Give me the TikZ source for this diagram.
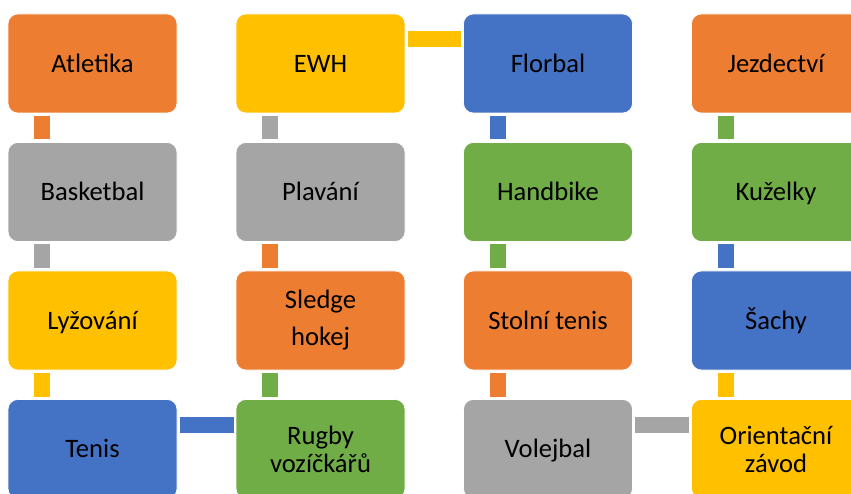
\documentclass[tikz,border=0pt]{standalone}
\usepackage{fontspec}
\setmainfont{Carlito}
\definecolor{cOrange}{HTML}{ED7D31}
\definecolor{cGray}{HTML}{A5A5A5}
\definecolor{cYellow}{HTML}{FFC000}
\definecolor{cBlue}{HTML}{4472C4}
\definecolor{cGreen}{HTML}{70AD47}
\tikzset{
  sportbox/.style={rectangle, rounded corners=10pt, fill=#1, draw=white, line width=0.6pt,
    minimum width=169pt, minimum height=99pt, inner sep=0pt, outer sep=0pt,
    anchor=north west, align=center, text=black,
    font=\fontsize{26.6}{28}\selectfont},
  oneline/.style={text height=20.4pt, text depth=3pt}
}
% vertical link between two stacked boxes, colour of the source box
\newcommand\vlinkbar[3]{\fill[#1] ([xshift=26pt,yshift=-3pt]#2.south west) rectangle ([xshift=42pt,yshift=3pt]#3.north west);}
% horizontal link between two neighbouring boxes
\newcommand\hlinkbar[3]{\fill[#1] ([xshift=2.5pt,yshift=-17pt]#2.north east) rectangle ([xshift=-2.5pt,yshift=-33pt]#3.north west);}
\begin{document}
\begin{tikzpicture}[x=1pt,y=1pt]
\useasboundingbox (0,0) rectangle (851,-494);
\clip (0,0) rectangle (851,-494);
% column 1
\node[sportbox=cOrange,oneline] (atl) at (8,-14) {Atletika};
\node[sportbox=cGray,oneline]   (bas) at (8,-142.5) {Basketbal};
\node[sportbox=cYellow,oneline] (lyz) at (8,-271) {Lyžování};
\node[sportbox=cBlue,oneline]   (ten) at (8,-399.5) {Tenis};
% column 2
\node[sportbox=cYellow,oneline] (ewh) at (236,-14) {EWH};
\node[sportbox=cGray,oneline]   (pla) at (236,-142.5) {Plavání};
\node[sportbox=cOrange] (sle) at (236,-271) {Sledge\\[9pt]hokej};
\node[sportbox=cGreen]  (rug) at (236,-399.5) {Rugby\\vozíčkářů};
% column 3
\node[sportbox=cBlue,oneline]   (flo) at (463.5,-14) {Florbal};
\node[sportbox=cGreen,oneline]  (han) at (463.5,-142.5) {Handbike};
\node[sportbox=cOrange,oneline] (sto) at (463.5,-271) {Stolní tenis};
\node[sportbox=cGray,oneline]   (vol) at (463.5,-399.5) {Volejbal};
% column 4
\node[sportbox=cOrange,oneline] (jez) at (691.5,-14) {Jezdectví};
\node[sportbox=cGreen,oneline]  (kuz) at (691.5,-142.5) {Kuželky};
\node[sportbox=cBlue,oneline]   (sac) at (691.5,-271) {Šachy};
\node[sportbox=cYellow] (ori) at (691.5,-399.5) {Orientační\\závod};
% links along the snake
\vlinkbar{cOrange}{atl}{bas}
\vlinkbar{cGray}{bas}{lyz}
\vlinkbar{cYellow}{lyz}{ten}
\hlinkbar{cBlue}{ten}{rug}
\vlinkbar{cGreen}{sle}{rug}
\vlinkbar{cOrange}{pla}{sle}
\vlinkbar{cGray}{ewh}{pla}
\hlinkbar{cYellow}{ewh}{flo}
\vlinkbar{cBlue}{flo}{han}
\vlinkbar{cGreen}{han}{sto}
\vlinkbar{cOrange}{sto}{vol}
\hlinkbar{cGray}{vol}{ori}
\vlinkbar{cYellow}{sac}{ori}
\vlinkbar{cBlue}{kuz}{sac}
\vlinkbar{cGreen}{jez}{kuz}
\end{tikzpicture}
\end{document}
